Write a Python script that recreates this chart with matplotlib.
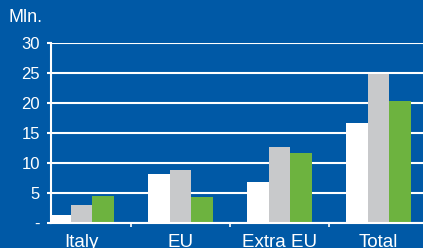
import numpy as np
import matplotlib
matplotlib.use('Agg')
from matplotlib import pyplot as plt

plt.rcParams['font.family'] = ['Liberation Sans', 'DejaVu Sans']

categories = ['Italy', 'EU', 'Extra EU', 'Total']
series_white = [1.4, 8.2, 6.8, 16.7]
series_gray = [3.0, 8.8, 12.7, 24.8]
series_green = [4.45, 4.4, 11.6, 20.4]
yticks = [0, 5, 10, 15, 20, 25, 30]
yticklabels = ['-', '5', '10', '15', '20', '25', '30']

W, H = 423, 248
bg = '#0059a6'
fig = plt.figure(figsize=(W/100, H/100), dpi=100, facecolor=bg)
ax = fig.add_axes([51/W, 25/H, 372/W, 180/H], facecolor=bg)

x = np.arange(len(categories))
bw = 0.218
ax.bar(x - bw, series_white, bw, color='white', zorder=3, linewidth=0)
ax.bar(x, series_gray, bw, color='#c8c9cb', zorder=3, linewidth=0)
ax.bar(x + bw, series_green, bw, color='#6db33f', zorder=3, linewidth=0)

ax.set_xlim(-0.31, -0.31 + 372/99)
ax.set_ylim(0, 30)
ax.set_yticks(yticks)
ax.set_yticklabels(yticklabels, color='white', fontsize=12)
ax.yaxis.grid(True, color='white', linewidth=1.5, zorder=1)
ax.set_axisbelow(True)

# category labels centered, ticks between groups
ax.set_xticks(x)
ax.set_xticklabels(categories, color='white', fontsize=13.5)
ax.tick_params(axis='x', length=0, pad=8)
ax.set_xticks([0.5, 1.5, 2.5], minor=True)
ax.tick_params(axis='x', which='minor', length=3, color='white', width=1.2)
ax.tick_params(axis='y', length=3, color='white', width=1.5, pad=5)

for s in ['top', 'right']:
    ax.spines[s].set_visible(False)
for s in ['left', 'bottom']:
    ax.spines[s].set_color('white')
    ax.spines[s].set_linewidth(1.5)
ax.spines['bottom'].set_zorder(4)

fig.text(8/W, 1 - 18/H, 'Mln.', color='white', fontsize=13, va='center', ha='left')

fig.savefig('out.png', dpi=100, facecolor=bg)
